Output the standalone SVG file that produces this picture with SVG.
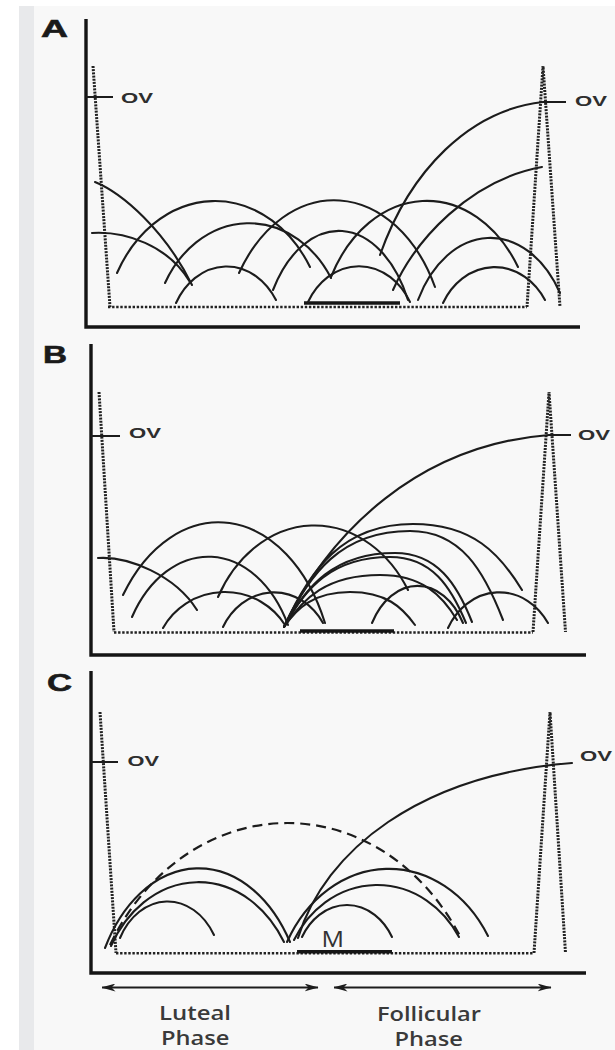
<svg xmlns="http://www.w3.org/2000/svg" width="615" height="1050" viewBox="0 0 615 1050">
<defs>
<style>
.ax{fill:none;stroke:#151515;stroke-width:3.4}
.arc{fill:none;stroke:#1c1c1c;stroke-width:2.1;stroke-linecap:round}
.dot{fill:none;stroke:#222;stroke-width:3;stroke-dasharray:2 1.2}
.base{fill:none;stroke:#222;stroke-width:2.4;stroke-dasharray:2.4 1.7}
.bar{fill:none;stroke:#151515;stroke-width:3.4}
.tick{fill:none;stroke:#1c1c1c;stroke-width:2}
.dash{fill:none;stroke:#1c1c1c;stroke-width:2.2;stroke-dasharray:10 6}
.arw{fill:none;stroke:#1c1c1c;stroke-width:2.2}
.lbl{font-family:"Liberation Sans",Arial,sans-serif;font-weight:bold;font-size:24px;fill:#1a1a1a;stroke:#1a1a1a;stroke-width:0.6}
.ov{font-family:"Liberation Sans",Arial,sans-serif;font-weight:bold;font-size:15px;fill:#2e2e2e}
.ph{font-family:"Open Sans","Liberation Sans",sans-serif;font-weight:600;font-size:20px;fill:#3a3a3a}
.m{font-family:"Open Sans","Liberation Sans",sans-serif;font-weight:400;font-size:21px;fill:#333}
</style>
<marker id="ah" viewBox="0 0 14 8" refX="13.5" refY="4" markerWidth="14" markerHeight="8" orient="auto-start-reverse" markerUnits="userSpaceOnUse">
<path d="M0,0 L14,4 L0,8 L4,4 z" fill="#1c1c1c"/>
</marker>
</defs>
<rect width="615" height="1050" fill="#ffffff"/>
<rect x="19" y="6" width="596" height="1044" fill="#f8f8f8"/>
<rect x="19" y="6" width="15" height="1044" fill="#e8e9eb"/>

<g id="panelA">
<text class="lbl" x="41" y="37" textLength="27" lengthAdjust="spacingAndGlyphs">A</text>
<path class="ax" d="M86,19 V327 H580"/>
<path class="dot" d="M93,66 L110,307"/>
<path class="base" d="M108,307 H527"/>
<path class="dot" d="M527,307 L543,66 L560,307"/>
<path class="bar" d="M304,303 H400"/>
<path class="tick" d="M86,97 H113"/>
<text class="ov" x="121" y="102.5" textLength="32" lengthAdjust="spacingAndGlyphs">OV</text>
<path class="tick" d="M543,102 H566"/>
<text class="ov" x="575" y="106" textLength="32" lengthAdjust="spacingAndGlyphs">OV</text>
<g id="arcsA">
<path class="arc" d="M95,182 C122,193 165,230 192,285"/>
<path class="arc" d="M92,233 C125,231 168,245 190,282"/>
<path class="arc" d="M117,273 A111.5,138 0 0 1 310,267"/>
<path class="arc" d="M165,283 A96,115 0 0 1 331,278"/>
<path class="arc" d="M176,303 A58,71 0 0 1 276,300"/>
<path class="arc" d="M239,273 A113,158 0 0 1 435,287"/>
<path class="arc" d="M273,290 A78,128 0 0 1 408,300"/>
<path class="arc" d="M308,302 A59,72 0 0 1 410,302"/>
<path class="arc" d="M418,300 A82,117 0 0 1 560,293"/>
<path class="arc" d="M331,277 A108,142 0 0 1 518,267"/>
<path class="arc" d="M443,303 A59,69 0 0 1 545,300"/>
<path class="arc" d="M393,290 C415,240 470,180 542,167"/>
<path class="arc" d="M380,255 C410,170 470,110 543,102"/>
</g>
</g>

<g id="panelB">
<text class="lbl" x="43" y="363" textLength="24" lengthAdjust="spacingAndGlyphs">B</text>
<path class="ax" d="M91,344 V655 H586"/>
<path class="dot" d="M99,392 L114,632"/>
<path class="base" d="M114,632.5 H533"/>
<path class="dot" d="M533,632 L549,392 L565.5,632"/>
<path class="bar" d="M300,631 H394"/>
<path class="tick" d="M91,436 H120"/>
<text class="ov" x="129" y="437.5" textLength="32" lengthAdjust="spacingAndGlyphs">OV</text>
<path class="tick" d="M549,435 H571"/>
<text class="ov" x="578" y="440" textLength="32" lengthAdjust="spacingAndGlyphs">OV</text>
<g id="arcsB">
<path class="arc" d="M98,558 C128,556 175,575 197,610"/>
<path class="arc" d="M123,595 A117,172 0 0 1 325,623"/>
<path class="arc" d="M132,617 A90,128 0 0 1 288,625"/>
<path class="arc" d="M163,628 A70.5,69 0 0 1 285,625"/>
<path class="arc" d="M218,597 A110,137 0 0 1 408,590"/>
<path class="arc" d="M223,627 A58,66 0 0 1 323,623"/>
<path class="arc" d="M372,623 A52.5,74 0 0 1 463,623"/>
<path class="arc" d="M448,628 A58,67 0 0 1 548,623"/>
<path class="arc" d="M284,627 C310,570 342,524 413,524 C473,524 500,554 522,590"/>
<path class="arc" d="M284,627 C309,574 341,531 410,531 C461,531 484,571 503,620"/>
<path class="arc" d="M284,627 C306,586 334,553 395,553 C437,553 457,584 472,622"/>
<path class="arc" d="M284,627 C305,588 332,557 390,557 C432,557 451,587 466,623"/>
<path class="arc" d="M284,627 C303,598 327,575 380,575 C422,575 442,595 457,620"/>
<path class="arc" d="M284,627 C297,608 314,592 350,592 C386,592 402,607 415,625"/>
<path class="arc" d="M284,627 C330,530 420,445 549,435"/>
</g>
</g>

<g id="panelC">
<text class="lbl" x="47" y="691" textLength="25" lengthAdjust="spacingAndGlyphs">C</text>
<path class="ax" d="M91,671 V973 H586"/>
<path class="dot" d="M100,712 L116,953"/>
<path class="base" d="M116,953.3 H534"/>
<path class="dot" d="M534,953 L550,712 L565.5,953"/>
<path class="bar" d="M297,951.7 H392"/>
<path class="tick" d="M91,762 H118"/>
<text class="ov" x="127.5" y="765.5" textLength="31.5" lengthAdjust="spacingAndGlyphs">OV</text>
<text class="ov" x="580" y="760.5" textLength="32" lengthAdjust="spacingAndGlyphs">OV</text>
<text class="m" x="321.6" y="946.7" textLength="22.5" lengthAdjust="spacingAndGlyphs">M</text>
<g id="arcsC">
<path class="dash" d="M110,945 A202.7,237 0 0 1 461,938"/>
<path class="arc" d="M105,948 A107,154 0 0 1 290,942"/>
<path class="arc" d="M111,946 A100,124 0 0 1 284,942"/>
<path class="arc" d="M120,938 A54,69 0 0 1 214,935"/>
<path class="arc" d="M287,942 A116,140 0 0 1 488,936"/>
<path class="arc" d="M294,940 A95.3,107 0 0 1 459,937"/>
<path class="arc" d="M302,937 A52,64 0 0 1 392,937"/>
<path class="arc" d="M298,938 C325,850 420,775 572,763"/>
</g>
</g>

<g id="phases">
<path class="arw" d="M102,987.5 H318" marker-start="url(#ah)" marker-end="url(#ah)"/>
<path class="arw" d="M334,987.5 H551" marker-start="url(#ah)" marker-end="url(#ah)"/>
<text class="ph" x="159" y="1019.5" textLength="72" lengthAdjust="spacingAndGlyphs">Luteal</text>
<text class="ph" x="161" y="1044.5" textLength="68.5" lengthAdjust="spacingAndGlyphs">Phase</text>
<text class="ph" x="377" y="1021" textLength="104" lengthAdjust="spacingAndGlyphs">Follicular</text>
<text class="ph" x="394.5" y="1045.5" textLength="68.5" lengthAdjust="spacingAndGlyphs">Phase</text>
</g>
</svg>
